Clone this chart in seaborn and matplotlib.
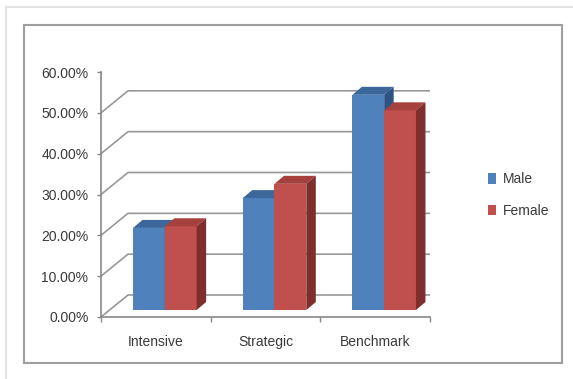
import numpy as np
import pandas as pd
import seaborn as sns
import matplotlib
matplotlib.use("Agg")
import matplotlib.pyplot as plt
from matplotlib.patches import Polygon, Rectangle
from matplotlib.lines import Line2D
from matplotlib.transforms import Affine2D, IdentityTransform
from matplotlib.ticker import FuncFormatter, FixedLocator

# ---- data ----
categories = ["Intensive", "Strategic", "Benchmark"]
genders = ["Male", "Female"]
male = [20.1, 27.4, 52.7]
female = [20.5, 30.9, 48.9]
yticks = [0, 10, 20, 30, 40, 50, 60]

df = pd.DataFrame({
    "Category": categories * 2,
    "Gender": ["Male"] * 3 + ["Female"] * 3,
    "Value": male + female,
})

sns.set_style("white")
plt.rcParams["font.family"] = ["Liberation Sans", "DejaVu Sans"]

W, H = 573, 379
fig = plt.figure(figsize=(W / 100, H / 100), dpi=100)

def fx(px):
    return px / W

def fy(py):
    return 1 - py / H

# axes: front plane
ax_left, ax_right, ax_bot, ax_top = 101, 430, 317, 72
ax = fig.add_axes([fx(ax_left), fy(ax_bot), (ax_right - ax_left) / W, (ax_bot - ax_top) / H])
ax.set_facecolor("none")

front_col = {"Male": "#4F81BD", "Female": "#C0504D"}
top_col = {"Male": "#3B679B", "Female": "#A5403D"}
side_col = {"Male": "#2D5384", "Female": "#7E2E2C"}

sns.barplot(data=df, x="Category", y="Value", hue="Gender", hue_order=genders,
            order=categories, palette=front_col, saturation=1, width=0.58,
            gap=0, errorbar=None, linewidth=0, ax=ax, legend=True)

ax.set_xlim(-0.5, 2.5)
ax.set_ylim(0, 60)
ax.set_xlabel("")
ax.set_ylabel("")

grey_axis = "#878787"
grey_grid = "#989898"
for s in ["top", "right"]:
    ax.spines[s].set_visible(False)
for s in ["left", "bottom"]:
    ax.spines[s].set_color(grey_axis)
    ax.spines[s].set_linewidth(1.2)
    ax.spines[s].set_zorder(1)

ax.yaxis.set_major_locator(FixedLocator(yticks))
ax.yaxis.set_major_formatter(FuncFormatter(lambda v, p: f"{v:.2f}%"))
ax.tick_params(axis="y", length=3, width=1, color=grey_axis, pad=6,
               labelsize=10, labelcolor="#3a3a3a", left=True, direction="out")
ax.set_xticks([0, 1, 2])
ax.set_xticklabels(categories)
ax.set_xticks([-0.5, 0.5, 1.5, 2.5], minor=True)
ax.tick_params(axis="x", which="major", length=0, pad=13, labelsize=10, labelcolor="#3a3a3a")
ax.tick_params(axis="x", which="minor", length=3.5, width=1, color=grey_axis, bottom=True, direction="out")

fig.canvas.draw()
idt = IdentityTransform()

G = np.array([27.0, 22.0])   # depth of the back wall (display px)
F = np.array([9.0, 7.0])     # bars front plane offset
D = np.array([9.5, 8.0])     # bar depth

# back-wall gridlines
for v in yticks:
    A = ax.transData.transform((-0.5, v))
    B = A + G
    C = ax.transData.transform((2.5, v)) + G
    ln = Line2D([A[0], B[0], C[0]], [A[1], B[1], C[1]], transform=idt,
                color=grey_grid, lw=1.2, zorder=0.5)
    ax.add_line(ln)
# floor right edge
FR = ax.transData.transform((2.5, 0))
ax.add_line(Line2D([FR[0], FR[0] + G[0]], [FR[1], FR[1] + G[1]], transform=idt,
                   color=grey_grid, lw=1.2, zorder=0.5))

# 3D bars
bars = [p for p in ax.patches if isinstance(p, Rectangle)][:6]
for i, p in enumerate(bars):
    g = genders[i // 3]
    z = 3 if g == "Male" else 4
    x0, y0 = p.get_x(), p.get_y()
    w, h = p.get_width(), p.get_height()
    BL = ax.transData.transform((x0, y0)) + F
    BR = ax.transData.transform((x0 + w, y0)) + F
    TL = ax.transData.transform((x0, y0 + h)) + F
    TR = ax.transData.transform((x0 + w, y0 + h)) + F
    p.set_transform(ax.transData + Affine2D().translate(*F))
    p.set_zorder(z)
    top = Polygon([TL, TR, TR + D, TL + D], closed=True, transform=idt,
                  facecolor=top_col[g], edgecolor="none", zorder=z)
    side = Polygon([BR, TR, TR + D, BR + D], closed=True, transform=idt,
                   facecolor=side_col[g], edgecolor="none", zorder=z)
    ax.add_patch(top)
    ax.add_patch(side)

# legend
sns.move_legend(ax, loc="center left", bbox_to_anchor=((488 - ax_left) / (ax_right - ax_left),
                (ax_bot - 195) / (ax_bot - ax_top)),
                title=None, frameon=False, fontsize=10, handlelength=0.6,
                handleheight=0.75, handletextpad=0.45, labelspacing=1.25,
                borderaxespad=0, borderpad=0)
for t in ax.get_legend().get_texts():
    t.set_color("#3a3a3a")

# frames
fig.add_artist(Rectangle((fx(23.5), fy(362.5)), (562 - 23.5) / W, (362.5 - 24.5) / H,
                         transform=fig.transFigure, fill=False, edgecolor="#9e9e9e", lw=1.5))
fig.add_artist(Line2D([fx(6), fx(573)], [fy(7), fy(7)], transform=fig.transFigure,
                      color="#dedede", lw=1.2))
fig.add_artist(Line2D([fx(6), fx(6)], [fy(7), fy(379)], transform=fig.transFigure,
                      color="#dedede", lw=1.2))

fig.savefig("out.png", dpi=100, facecolor="white")
